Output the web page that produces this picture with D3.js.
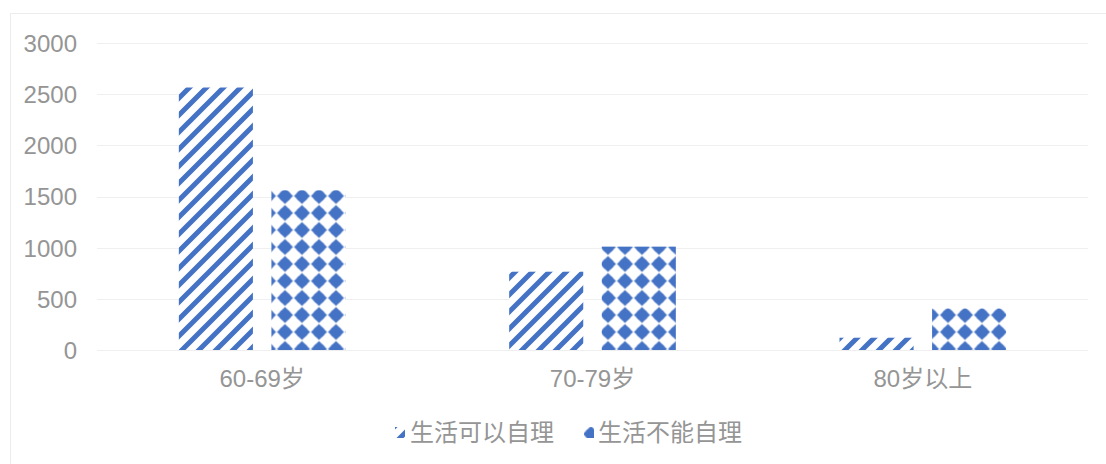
<!DOCTYPE html>
<html>
<head>
<meta charset="utf-8">
<script src="https://cdn.jsdelivr.net/npm/d3@7"></script>
<style>
  html, body { margin: 0; padding: 0; background: #fff; }
  svg { display: block; }
  text { font-family: "Liberation Sans", "Noto Sans CJK SC", sans-serif; }
</style>
</head>
<body>
<svg id="chart" width="1106" height="464"></svg>
<script>
// Age groups and the two care-status series
const categories = ["60-69岁", "70-79岁", "80岁以上"];
const seriesNames = ["生活可以自理", "生活不能自理"];
const selfCare = [2565, 765, 120];
const noSelfCare = [1560, 1010, 405];
const yTicks = [0, 500, 1000, 1500, 2000, 2500, 3000];

const W = 1106, H = 464;
const blue = "#4472C4";
const textColor = "#959595";
const fontSize = "24px";
const svg = d3.select("#chart");

// Outer chart frame
svg.append("rect")
  .attr("x", 10.5).attr("y", 13.5)
  .attr("width", W).attr("height", H)
  .attr("fill", "#fff").attr("stroke", "#ececec");

// Fill patterns: wide upward diagonal and diamond grid
const defs = svg.append("defs");
const P = 17;
const hatch = defs.append("pattern")
  .attr("id", "hatch").attr("patternUnits", "userSpaceOnUse")
  .attr("width", P).attr("height", P).attr("x", 2).attr("y", 3);
hatch.append("rect").attr("width", P).attr("height", P).attr("fill", "#fff");
hatch.append("path")
  .attr("d", `M${-P},${P} L${P},${-P} M0,${2 * P} L${2 * P},0 M${-P},${2*P} L${2*P},${-P}`)
  .attr("stroke", blue).attr("stroke-width", 5);

const dia = defs.append("pattern")
  .attr("id", "diamond").attr("patternUnits", "userSpaceOnUse")
  .attr("width", P).attr("height", P)
  .attr("x", 268 - P / 2).attr("y", 247 - P / 2);
dia.append("rect").attr("width", P).attr("height", P).attr("fill", "#fff");
const c = P / 2, r = 8;
// rounded diamond: a diamond merged with a circle
dia.append("path")
  .attr("d", `M${c},${c - r} L${c + r},${c} L${c},${c + r} L${c - r},${c} Z`)
  .attr("fill", blue);
dia.append("circle").attr("cx", c).attr("cy", c).attr("r", 5.8).attr("fill", blue);

const plotL = 97, plotR = 1088, plotT = 43, plotB = 350;

const y = d3.scaleLinear().domain([0, 3000]).range([plotB, plotT]);
const x0 = d3.scaleBand().domain(categories).range([plotL, plotR]);
const x1 = d3.scaleBand().domain(seriesNames).range([0, x0.bandwidth()])
  .paddingInner(0.2).paddingOuter(0.884);

// Gridlines
svg.append("g").selectAll("line").data(yTicks).join("line")
  .attr("x1", plotL).attr("x2", plotR)
  .attr("y1", d => Math.round(y(d)) + 0.5).attr("y2", d => Math.round(y(d)) + 0.5)
  .attr("stroke", "#efefef").attr("stroke-width", 1);

// Y axis labels
const yAxis = d3.axisLeft(y).tickValues(yTicks).tickFormat(d3.format("d"))
  .tickSize(0).tickPadding(0);
const gy = svg.append("g").attr("transform", `translate(77,0)`).call(yAxis);
gy.select(".domain").remove();
gy.selectAll("text")
  .attr("fill", textColor).style("font-size", fontSize)
  .attr("dy", "0.35em");

// X axis labels
const xAxis = d3.axisBottom(x0).tickSize(0).tickPadding(0);
const gx = svg.append("g").attr("transform", `translate(0,${plotB + 20})`).call(xAxis);
gx.select(".domain").remove();
gx.selectAll("text")
  .attr("fill", textColor).style("font-size", fontSize)
  .attr("dy", "0.71em");

// Bars
const fills = ["url(#hatch)", "url(#diamond)"];
const seriesData = [selfCare, noSelfCare];
seriesNames.forEach((name, si) => {
  svg.append("g").selectAll("rect")
    .data(categories.map((cat, i) => ({ cat, v: seriesData[si][i] })))
    .join("rect")
    .attr("x", d => x0(d.cat) + x1(name))
    .attr("y", d => y(d.v))
    .attr("width", x1.bandwidth())
    .attr("height", d => y(0) - y(d.v))
    .attr("fill", fills[si]);
});

// Legend
const legend = [
  { name: seriesNames[0], mx: 395, tx: 410, fill: fills[0] },
  { name: seriesNames[1], mx: 584, tx: 598, fill: fills[1] }
];
const lg = svg.append("g");
lg.selectAll("rect").data(legend).join("rect")
  .attr("x", d => d.mx).attr("y", 427)
  .attr("width", 10).attr("height", 11)
  .attr("fill", d => d.fill);
lg.selectAll("text").data(legend).join("text")
  .attr("x", d => d.tx).attr("y", 433)
  .attr("dy", "0.35em")
  .attr("fill", textColor).style("font-size", fontSize)
  .text(d => d.name);
</script>
</body>
</html>
